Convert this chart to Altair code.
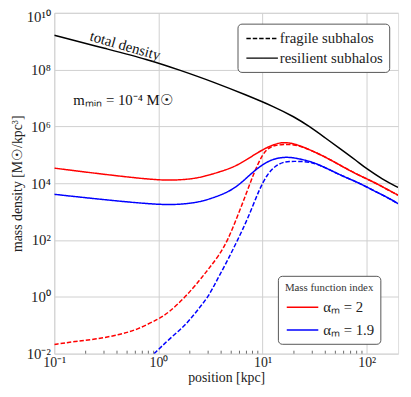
import json
import altair as alt
import pandas as pd

# ---------------- data ----------------
# total density
total_x = [0.1, 0.316, 0.787, 1.62, 3.35, 6.92, 13.3, 20.0, 28.2, 39.8, 56.2, 79.4, 100, 141, 200]
total_y = [1.62e9, 5.4e8, 2.29e8, 9.5e7, 3.7e7, 1.29e7, 4.7e6, 2.2e6, 1.0e6, 4.0e5, 1.6e5, 6.3e4, 3.2e4, 1.4e4, 7.1e3]

# alpha_m = 2, resilient (solid red)
red_solid_x = [0.1, 0.316, 1.0, 1.58, 2.34, 3.16, 4.79, 6.31, 8.51, 11.2, 14.1, 16.6, 20.4, 27.5, 39.8, 56.2, 79.4, 117, 158, 200]
red_solid_y = [3.4e4, 2.0e4, 1.26e4, 1.29e4, 1.5e4, 2.0e4, 3.2e4, 5.2e4, 1.07e5, 1.9e5, 2.6e5, 2.75e5, 2.45e5, 1.6e5, 8.5e4, 4.2e4, 2.1e4, 1.1e4, 6.0e3, 3.8e3]

# alpha_m = 2, fragile (dashed red)
red_dash_x = [0.1, 0.158, 0.25, 0.43, 0.63, 1.0, 1.26, 1.82, 2.51, 3.02, 3.8, 4.65, 5.75, 6.92, 8.32, 10.0, 11.5, 13.2, 15.8, 20.0, 25.1, 31.6, 39.8, 56.2, 79.4, 117, 158, 200]
red_dash_y = [0.021, 0.027, 0.032, 0.047, 0.071, 0.166, 0.28, 1.0, 4.0, 9.5, 28, 100, 700, 4000, 2.5e4, 1.07e5, 1.8e5, 2.15e5, 2.35e5, 2.3e5, 1.8e5, 1.26e5, 8.5e4, 4.2e4, 2.1e4, 1.1e4, 6.0e3, 3.8e3]

# alpha_m = 1.9, resilient (solid blue)
blue_solid_x = [0.1, 0.316, 1.0, 1.58, 2.34, 3.16, 4.79, 6.31, 8.32, 11.2, 14.1, 17.8, 22.4, 29.5, 39.8, 56.2, 87.1, 117, 158, 200]
blue_solid_y = [4070, 2570, 1740, 1780, 2090, 2820, 5000, 1.05e4, 2.8e4, 6.0e4, 7.9e4, 8.4e4, 7.3e4, 5.75e4, 3.6e4, 1.9e4, 9.8e3, 5.4e3, 3.2e3, 1.9e3]

# alpha_m = 1.9, fragile (dashed blue)
blue_dash_x = [0.91, 1.26, 1.82, 2.34, 3.02, 3.72, 4.68, 5.75, 7.16, 9.23, 11.0, 13.3, 15.8, 17.8, 22.4, 29.5, 39.8, 56.2, 87.1, 117, 158, 200]
blue_dash_y = [0.01, 0.032, 0.10, 0.32, 1.0, 4.5, 21, 100, 525, 5750, 2.0e4, 4.2e4, 5.5e4, 5.9e4, 5.9e4, 5.6e4, 3.6e4, 1.9e4, 9.8e3, 5.4e3, 3.2e3, 1.9e3]

alpha_labels = ["αₘ = 2", "αₘ = 1.9"]
kind_labels = ["fragile subhalos", "resilient subhalos"]

x_tick_exps = [-1, 0, 1, 2]
y_tick_exps = [-2, 0, 2, 4, 6, 8, 10]
x_minor = [0.2, 0.3, 0.4, 0.5, 0.6, 0.7, 0.8, 0.9, 2, 3, 4, 5, 6, 7, 8, 9,
           20, 30, 40, 50, 60, 70, 80, 90]

annot_text = ["total density", "mₘᵢₙ = 10⁻⁴ M☉"]
annot_x = [0.48, 0.457]
annot_y = [7.0e8, 8.2e6]
annot_angle = [16, 0]

# ---------------- build tables ----------------
rows = []
for xs, ys, a, k, s in [
    (red_solid_x, red_solid_y, alpha_labels[0], kind_labels[1], "rs"),
    (red_dash_x, red_dash_y, alpha_labels[0], kind_labels[0], "rd"),
    (blue_solid_x, blue_solid_y, alpha_labels[1], kind_labels[1], "bs"),
    (blue_dash_x, blue_dash_y, alpha_labels[1], kind_labels[0], "bd"),
]:
    for xv, yv in zip(xs, ys):
        rows.append({"x": xv, "y": yv, "alpha": a, "kind": k, "series": s})
sub_df = pd.DataFrame(rows)
total_df = pd.DataFrame({"x": total_x, "y": total_y})
annot_df = pd.DataFrame({"x": annot_x, "y": annot_y, "t": annot_text, "a": annot_angle})
minor_df = pd.DataFrame({"x": x_minor})

sup = str.maketrans("-0123456789", "⁻⁰¹²³⁴⁵⁶⁷⁸⁹")
x_lab = ["10" + str(e).translate(sup) for e in x_tick_exps]
y_lab = ["10" + str(e).translate(sup) for e in y_tick_exps]
x_expr = f"{json.dumps(x_lab, ensure_ascii=False)}[round(log(datum.value)/LN10) - ({x_tick_exps[0]})]"
y_expr = f"{json.dumps(y_lab, ensure_ascii=False)}[round((round(log(datum.value)/LN10) - ({y_tick_exps[0]}))/2)]"

FONT = "Liberation Serif"
W, H = 349, 346
LEG_SYM = "M0,0H4"  # 32px stroke drawn to the right of the symbol anchor, row height 16px

xscale = alt.Scale(type="log", domain=[0.1, 200], nice=False)
yscale = alt.Scale(type="log", domain=[1e-2, 1e10], nice=False)

xaxis = alt.Axis(values=[10.0 ** e for e in x_tick_exps], labelExpr=x_expr, title="position [kpc]",
                 grid=True, ticks=False, domain=False, labelFlush=False, labelOverlap=False,
                 labelFont=FONT, labelFontSize=14, labelColor="#222", labelPadding=2,
                 titleFont=FONT, titleFontSize=14, titleFontWeight="normal", titleColor="#222",
                 titlePadding=1, gridColor="#cfcfcf")
yaxis = alt.Axis(values=[10.0 ** e for e in y_tick_exps], labelExpr=y_expr,
                 title="mass density [M☉/kpc³]",
                 grid=True, ticks=False, domain=False, labelFlush=False, labelOverlap=False,
                 labelFont=FONT, labelFontSize=15, labelColor="#222", labelPadding=4,
                 labelBaseline={"condition": {"test": "datum.value > 1e9", "value": "top"}, "value": "middle"},
                 labelOffset={"condition": {"test": "datum.value > 1e9", "value": -3}, "value": 0},
                 titleFont=FONT, titleFontSize=14, titleFontWeight="normal", titleColor="#222",
                 titlePadding=2, gridColor="#cfcfcf")

minor = alt.Chart(minor_df).mark_rule(color="#444", strokeWidth=0.8).encode(
    x=alt.X("x:Q", scale=xscale, axis=xaxis),
    y=alt.value(H), y2=alt.value(H - 3),
)

lines = alt.Chart(sub_df).mark_line(strokeWidth=1.5, clip=True, interpolate="basis").encode(
    x=alt.X("x:Q", scale=xscale, axis=xaxis),
    y=alt.Y("y:Q", scale=yscale, axis=yaxis),
    color=alt.Color("alpha:N", scale=alt.Scale(domain=alpha_labels, range=["#ff0000", "#0000ff"]),
                    legend=alt.Legend(orient="none", legendX=227, legendY=267,
                                      title="Mass function index", titleFont=FONT, titleFontSize=11,
                                      titleFontWeight="normal", titleColor="#333", titleAnchor="middle",
                                      titlePadding=6,
                                      symbolType=LEG_SYM, symbolSize=256, symbolStrokeWidth=1.5,
                                      symbolOffset=-6,
                                      labelFont=FONT, labelFontSize=15, labelColor="#222", labelOffset=28,
                                      rowPadding=6, padding=6, strokeColor="#555", fillColor="white",
                                      cornerRadius=4)),
    strokeDash=alt.StrokeDash("kind:N", scale=alt.Scale(domain=kind_labels, range=[[4.5, 2], [1, 0]]),
                              legend=alt.Legend(orient="none", legendX=186, legendY=11, title=None,
                                                symbolType=LEG_SYM, symbolSize=256, symbolStrokeWidth=1.5,
                                                symbolStrokeColor="black", symbolOffset=-6,
                                                labelFont=FONT, labelFontSize=15, labelColor="#222",
                                                labelOffset=25, rowPadding=3, padding=6,
                                                strokeColor="#555", fillColor="white", cornerRadius=4)),
    detail="series:N",
    order=alt.Order("x:Q"),
)

total = alt.Chart(total_df).mark_line(strokeWidth=1.5, color="black", clip=True, interpolate="basis").encode(
    x=alt.X("x:Q", scale=xscale, axis=xaxis),
    y=alt.Y("y:Q", scale=yscale, axis=yaxis),
)

texts = alt.Chart(annot_df).mark_text(font=FONT, fontSize=15, color="#111", align="center",
                                      baseline="middle").encode(
    x=alt.X("x:Q", scale=xscale, axis=xaxis),
    y=alt.Y("y:Q", scale=yscale, axis=yaxis),
    text="t:N",
    angle=alt.Angle("a:Q", scale=None),
)

chart = alt.layer(minor, lines, total, texts).properties(
    width=W, height=H,
    padding={"left": 47, "top": 2, "right": 5, "bottom": 33},
    autosize=alt.AutoSizeParams(type="none"),
).configure_view(stroke="#444", strokeWidth=1.2).configure(font=FONT, background="white")

chart.save("out.html", embed_options={"renderer": "svg", "actions": False})
